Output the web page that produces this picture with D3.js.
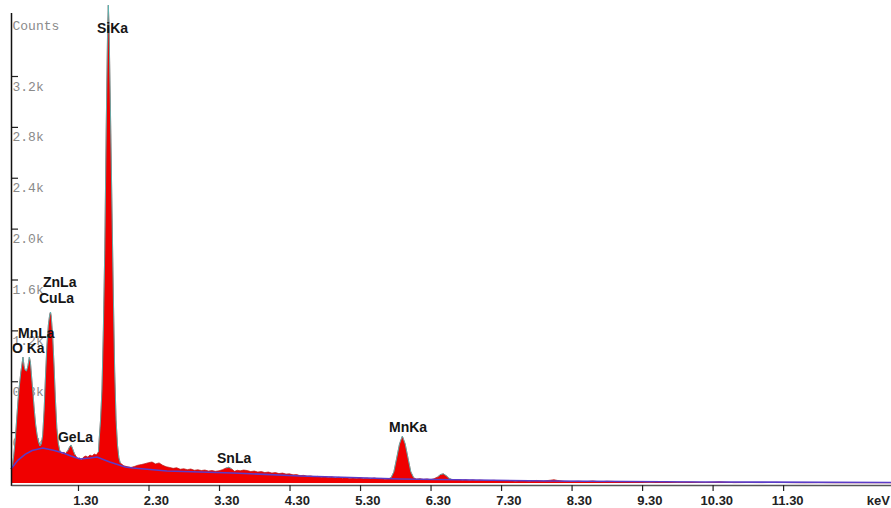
<!DOCTYPE html>
<html><head><meta charset="utf-8">
<script src="https://cdn.jsdelivr.net/npm/d3@7"></script>
<style>body{margin:0;background:#fff}svg{display:block}</style>
</head><body><svg id="c" width="891" height="508"></svg>
<script>
// EDS spectrum: [keV, counts]
const spectrum = [
[0.35,110],[0.37,134],[0.39,220],[0.41,338],[0.43,495],[0.45,652],[0.47,770],[0.49,872],[0.51,951],[0.52,990],
[0.535,920],[0.55,888],[0.57,880],[0.59,920],[0.61,990],[0.625,951],[0.64,849],[0.66,715],[0.68,574],[0.70,456],
[0.72,377],[0.74,322],[0.76,291],[0.78,306],[0.80,377],[0.82,574],[0.84,849],[0.86,1085],[0.88,1242],[0.90,1328],
[0.91,1344],[0.92,1313],[0.94,1163],[0.96,927],[0.98,652],[1.00,432],[1.02,314],[1.04,259],[1.06,236],[1.08,228],
[1.10,244],[1.12,228],[1.14,244],[1.16,259],[1.18,283],[1.20,299],[1.22,275],[1.24,244],[1.26,220],[1.28,204],
[1.30,189],[1.32,197],[1.35,181],[1.38,204],[1.41,212],[1.44,204],[1.47,220],[1.50,212],[1.53,228],[1.56,220],
[1.59,244],[1.60,338],[1.62,495],[1.64,731],[1.66,1203],[1.68,1831],[1.70,2775],[1.72,3561],[1.73,3757],[1.74,3600],
[1.76,2932],[1.78,2224],[1.80,1517],[1.82,888],[1.84,495],[1.86,299],[1.88,197],[1.90,157],[1.95,135],[2.00,128],
[2.05,122],[2.10,130],[2.15,140],[2.20,145],[2.25,152],[2.30,160],[2.35,165],[2.40,150],[2.45,158],[2.50,140],
[2.55,128],[2.60,122],[2.65,115],[2.70,120],[2.75,108],[2.80,112],[2.85,105],[2.90,110],[2.95,100],[3.00,104],
[3.05,98],[3.10,102],[3.15,94],[3.20,98],[3.25,92],[3.30,96],[3.35,105],[3.40,118],[3.44,124],[3.48,110],
[3.52,92],[3.56,100],[3.60,96],[3.65,102],[3.70,98],[3.75,90],[3.80,94],[3.85,86],[3.90,90],[3.95,82],
[4.00,86],[4.05,78],[4.10,82],[4.15,74],[4.20,78],[4.25,70],[4.30,72],[4.35,64],[4.40,66],[4.45,58],
[4.50,60],[4.55,54],[4.60,56],[4.65,48],[4.70,52],[4.75,46],[4.80,50],[4.85,44],[4.90,48],[4.95,40],
[5.00,45],[5.05,38],[5.10,44],[5.15,36],[5.20,40],[5.25,35],[5.30,42],[5.35,34],[5.40,38],[5.45,32],
[5.50,40],[5.55,33],[5.60,36],[5.65,30],[5.70,32],[5.74,42],[5.78,88],[5.82,196],[5.86,307],[5.90,369],
[5.94,307],[5.98,196],[6.02,88],[6.06,42],[6.10,30],[6.15,34],[6.20,28],[6.25,32],[6.30,26],[6.35,34],
[6.40,48],[6.44,66],[6.48,72],[6.52,58],[6.56,38],[6.60,28],[6.65,24],[6.70,27],[6.75,22],[6.80,25],
[6.85,20],[6.90,24],[6.95,19],[7.00,22],[7.10,18],[7.20,21],[7.30,16],[7.40,19],[7.50,14],[7.60,18],
[7.70,13],[7.80,20],[7.90,15],[8.00,22],[8.05,26],[8.10,20],[8.20,13],[8.30,11],[8.40,14],[8.50,10],
[8.60,16],[8.70,9],[8.80,14],[8.90,12],[9.00,8],[9.20,10],[9.40,6],[9.60,9],[9.80,5],[10.00,7],
[10.20,4],[10.40,9],[10.60,3],[10.80,4],[11.00,3],[11.20,5],[11.40,3],[11.60,2],[11.80,3],[12.00,2],
[12.40,2],[12.83,2]
];
// fitted continuum (background) [keV, counts]
const background = [
[0.35,110],[0.45,180],[0.55,225],[0.65,255],[0.80,275],[0.95,258],[1.09,236],[1.20,212],[1.33,189],[1.47,197],
[1.57,204],[1.75,165],[1.97,126],[2.08,118],[2.56,94],[3.50,79],[4.45,55],[5.87,31],[7.99,16],[10.12,8],[12.83,4]
];
// energy windows where the peak fit is drawn
const fitWindows = [[0.36,1.06],[1.14,1.26],[1.58,1.92],[3.38,3.50],[5.72,6.08],[6.36,6.60]];

const yTicks = [400,800,1200,1600,2000,2400,2800,3200];
const yTickLabels = ["0.4k","0.8k","1.2k","1.6k","2.0k","2.4k","2.8k","3.2k"];
const xTicks = [1.3,2.3,3.3,4.3,5.3,6.3,7.3,8.3,9.3,10.3,11.3];
const xTickLabels = ["1.30","2.30","3.30","4.30","5.30","6.30","7.30","8.30","9.30","10.30","11.30"];

const peakNames = ["SiKa","ZnLa","CuLa","MnLa","O Ka","GeLa","SnLa","MnKa"];
const peakLabelKeV = [1.57,0.804,0.747,0.449,0.364,1.016,3.272,5.711];
const peakLabelCounts = [3537,1541,1415,1140,1022,322,157,401];

const svg = d3.select("#c");
const x = d3.scaleLinear().domain([0.35,12.83]).range([11,891]);
const y = d3.scaleLinear().domain([0,3200]).range([483,76]);

const mono = "'Liberation Mono','DejaVu Sans Mono',monospace";
const sans = "'Liberation Sans',Arial,sans-serif";

// y axis ticks and labels (under the spectrum)
const ya = svg.append("g").attr("transform",`translate(${x(0.35)},0)`)
  .call(d3.axisRight(y).tickValues(yTicks).tickSize(7).tickFormat((d,i)=>yTickLabels[i]));
ya.select(".domain").remove();
ya.selectAll("line").attr("stroke","#222").attr("stroke-width",1.2);
ya.selectAll("text").attr("x",1.5).attr("y",14).attr("dy",0).attr("text-anchor","start")
  .attr("fill","#8a8a8a").style("font-family",mono).style("font-size","13px");
svg.append("text").attr("x",12.5).attr("y",30).text("Counts")
  .attr("fill","#8a8a8a").style("font-family",mono).style("font-size","13px");

// spectrum
const area = d3.area().x(d=>x(d[0])).y0(y(0)).y1(d=>y(d[1]));
const line = d3.line().x(d=>x(d[0])).y(d=>y(d[1]));
svg.append("path").datum(spectrum).attr("d",area).attr("fill","#f00000");
svg.append("path").datum(spectrum).attr("d",line).attr("fill","none").attr("stroke","#b41414").attr("stroke-width",0.7);
fitWindows.forEach(w=>{
  svg.append("path").datum(spectrum.filter(d=>d[0]>=w[0]&&d[0]<=w[1])).attr("d",line)
    .attr("fill","none").attr("stroke","#4fc4c0").attr("stroke-width",0.9).attr("opacity",0.9);
});
svg.append("path").datum(background).attr("d",line).attr("fill","none")
  .attr("stroke","#5a3cc8").attr("stroke-width",1.6);

// axes lines
svg.append("line").attr("x1",11.5).attr("x2",11.5).attr("y1",13).attr("y2",486)
  .attr("stroke","#111").attr("stroke-width",1.5);
const xa = svg.append("g").attr("transform","translate(0,485)")
  .call(d3.axisBottom(x).tickValues(xTicks).tickSizeInner(6).tickSizeOuter(0).tickFormat((d,i)=>xTickLabels[i]));
xa.select(".domain").attr("stroke","#555").attr("stroke-width",1.3);
xa.selectAll("line").attr("stroke","#222").attr("stroke-width",1.2);
xa.selectAll("text").attr("x",20).attr("y",20).attr("dy",0).attr("text-anchor","end")
  .attr("fill","#222").style("font-family",sans).style("font-weight","bold").style("font-size","13px");
svg.append("text").attr("x",890).attr("y",505).attr("text-anchor","end").text("keV")
  .attr("fill","#222").style("font-family",sans).style("font-weight","bold").style("font-size","13px");

// peak labels
svg.selectAll(".pk").data(peakNames).enter().append("text").attr("class","pk")
  .attr("x",(d,i)=>x(peakLabelKeV[i])).attr("y",(d,i)=>y(peakLabelCounts[i]))
  .text(d=>d).attr("fill","#151515").style("font-family",sans).style("font-weight","bold").style("font-size","14px");
</script></body></html>
